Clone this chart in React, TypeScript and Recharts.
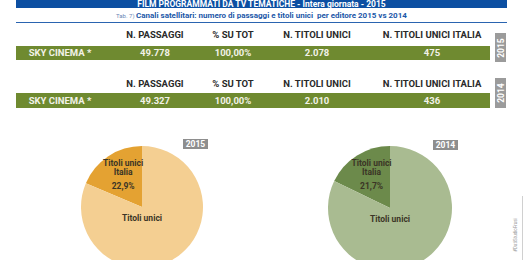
import React from "react";
import { Cell, Pie, PieChart } from "recharts";

// table values
const columns = ["N. PASSAGGI", "% SU TOT", "N. TITOLI UNICI", "N. TITOLI UNICI ITALIA"];
const editor = "SKY CINEMA *";
const years = ["2015", "2014"];
const passaggi = ["49.778", "49.327"];
const quota = ["100,00%", "100,00%"];
const titoliUnici = [2078, 2010];
const titoliItalia = [475, 436];
const italiaPct = ["22,9%", "21,7%"];

// pie slices
const sliceNames = ["Titoli unici Italia", "Titoli unici"];
const pie2015 = [
  { name: sliceNames[0], value: titoliItalia[0] },
  { name: sliceNames[1], value: titoliUnici[0] },
];
const pie2014 = [
  { name: sliceNames[0], value: titoliItalia[1] },
  { name: sliceNames[1], value: titoliUnici[1] },
];
const colors2015 = ["#e4a232", "#f4cf92"];
const colors2014 = ["#6c8a4b", "#a9bb91"];

const FONT = "Roboto, 'DejaVu Sans', sans-serif";
const colX = [155, 233, 317, 432];
const fmt = (n: number) => n.toLocaleString("de-DE");

function TableBlock({
  head,
  row,
  rowH,
  badgeTop,
  badgeH,
  idx,
}: {
  head: number;
  row: number;
  rowH: number;
  badgeTop: number;
  badgeH: number;
  idx: number;
}) {
  const vals = [passaggi[idx], quota[idx], fmt(titoliUnici[idx]), String(titoliItalia[idx])];
  const cellText = {
    position: "absolute" as const,
    top: row,
    lineHeight: rowH + "px",
    textAlign: "center" as const,
    fontSize: 9.5,
    fontWeight: 700,
    color: "#f2f2e8",
  };
  return (
    <>
      {columns.map((c, i) => (
        <div
          key={c}
          style={{
            position: "absolute",
            left: colX[i] - 60,
            width: 120,
            top: head - 6,
            textAlign: "center",
            fontSize: 9.5,
            fontWeight: 700,
            color: "#2a2a2a",
            lineHeight: "12px",
          }}
        >
          {c}
        </div>
      ))}
      <div
        style={{
          position: "absolute",
          left: 16,
          width: 474,
          top: row,
          height: rowH,
          background: "#6f8a30",
        }}
      />
      <div style={{ ...cellText, left: 16, width: 88 }}>{editor}</div>
      {vals.map((v, i) => (
        <div key={i} style={{ ...cellText, left: colX[i] - 60, width: 120 }}>
          {v}
        </div>
      ))}
      <div
        style={{
          position: "absolute",
          left: 495,
          width: 11,
          top: badgeTop,
          height: badgeH,
          background: "#9b9b9b",
        }}
      >
        <div
          style={{
            position: "absolute",
            left: 5.5 - badgeH / 2,
            top: badgeH / 2 - 5,
            width: badgeH,
            lineHeight: "10px",
            textAlign: "center",
            transform: "rotate(-90deg)",
            fontSize: 8.5,
            fontWeight: 700,
            color: "#ffffff",
          }}
        >
          {years[idx]}
        </div>
      </div>
    </>
  );
}

function makeLabel(pct: string) {
  return (props: any) => {
    const { cx, cy, midAngle, outerRadius, index } = props;
    const style = { fontSize: 8.5, fontWeight: 700, fill: "#3b3526", fontFamily: FONT };
    if (index === 0) {
      const r = outerRadius * 0.56;
      const rad = (Math.PI / 180) * midAngle;
      const x = cx + r * Math.cos(rad);
      const y = cy - r * Math.sin(rad);
      return (
        <text x={x} y={y} textAnchor="middle" style={style}>
          <tspan x={x} dy={-13}>Titoli unici</tspan>
          <tspan x={x} dy={9}>Italia</tspan>
          <tspan x={x} dy={14}>{pct}</tspan>
        </text>
      );
    }
    return (
      <text x={cx} y={cy + 14} textAnchor="middle" style={style}>
        {props.name}
      </text>
    );
  };
}

function Badge({ left, top, text }: { left: number; top: number; text: string }) {
  return (
    <div
      style={{
        position: "absolute",
        left,
        top,
        width: 25,
        height: 10,
        background: "#8e8e8e",
        color: "#ffffff",
        fontSize: 8.5,
        fontWeight: 700,
        lineHeight: "10px",
        textAlign: "center",
      }}
    >
      {text}
    </div>
  );
}

export default function App() {
  return (
    <div
      style={{
        position: "absolute",
        left: 0,
        top: 0,
        width: 525,
        height: 260,
        overflow: "hidden",
        background: "#ffffff",
        fontFamily: FONT,
      }}
    >
      <div style={{ position: "absolute", left: 0, top: 0 }}>
        <PieChart width={525} height={260}>
          <Pie
            data={pie2015}
            dataKey="value"
            nameKey="name"
            cx={137}
            cy={202}
            outerRadius={61}
            startAngle={90}
            endAngle={450}
            stroke="none"
            labelLine={false}
            label={makeLabel(italiaPct[0])}
            isAnimationActive={false}
          >
            {pie2015.map((d, i) => (
              <Cell key={d.name} fill={colors2015[i]} />
            ))}
          </Pie>
          <Pie
            data={pie2014}
            dataKey="value"
            nameKey="name"
            cx={385}
            cy={203}
            outerRadius={62}
            startAngle={90}
            endAngle={450}
            stroke="none"
            labelLine={false}
            label={makeLabel(italiaPct[1])}
            isAnimationActive={false}
          >
            {pie2014.map((d, i) => (
              <Cell key={d.name} fill={colors2014[i]} />
            ))}
          </Pie>
        </PieChart>
      </div>

      {/* title bar */}
      <div
        style={{
          position: "absolute",
          left: 16,
          width: 491,
          top: 0,
          height: 8,
          background: "#0c4fa2",
          color: "#ffffff",
          fontSize: 8.5,
          fontWeight: 700,
          lineHeight: "9px",
          textAlign: "center",
        }}
      >
        FILM PROGRAMMATI DA TV TEMATICHE - Intera giornata - 2015
      </div>
      <div
        style={{
          position: "absolute",
          left: 16,
          width: 491,
          top: 11,
          lineHeight: "10px",
          textAlign: "center",
          fontSize: 8,
          fontWeight: 700,
          color: "#1c58a8",
        }}
      >
        <span style={{ fontWeight: 400, color: "#6c87b6", fontSize: 6 }}>Tab. 7) </span>
        Canali satellitari: numero di passaggi e titoli unici&nbsp; per editore 2015 vs 2014
      </div>
      <div
        style={{
          position: "absolute",
          left: 16,
          width: 491,
          top: 22,
          height: 1,
          background: "#2a64b0",
        }}
      />

      <TableBlock head={35} row={46} rowH={14} badgeTop={33} badgeH={29} idx={0} />
      <TableBlock head={84} row={93} rowH={15} badgeTop={78} badgeH={30} idx={1} />

      <Badge left={183} top={139} text={years[0]} />
      <Badge left={433} top={140} text={years[1]} />

      <div
        style={{
          position: "absolute",
          left: 522,
          top: 196,
          width: 1,
          height: 64,
          background: "#d0d0d0",
        }}
      />
      <div
        style={{
          position: "absolute",
          left: 494,
          top: 232,
          width: 44,
          lineHeight: "6px",
          textAlign: "center",
          transform: "rotate(-90deg)",
          fontSize: 4.5,
          color: "#9a9a9a",
        }}
      >
        #DatiStudioFrasi
      </div>
    </div>
  );
}
